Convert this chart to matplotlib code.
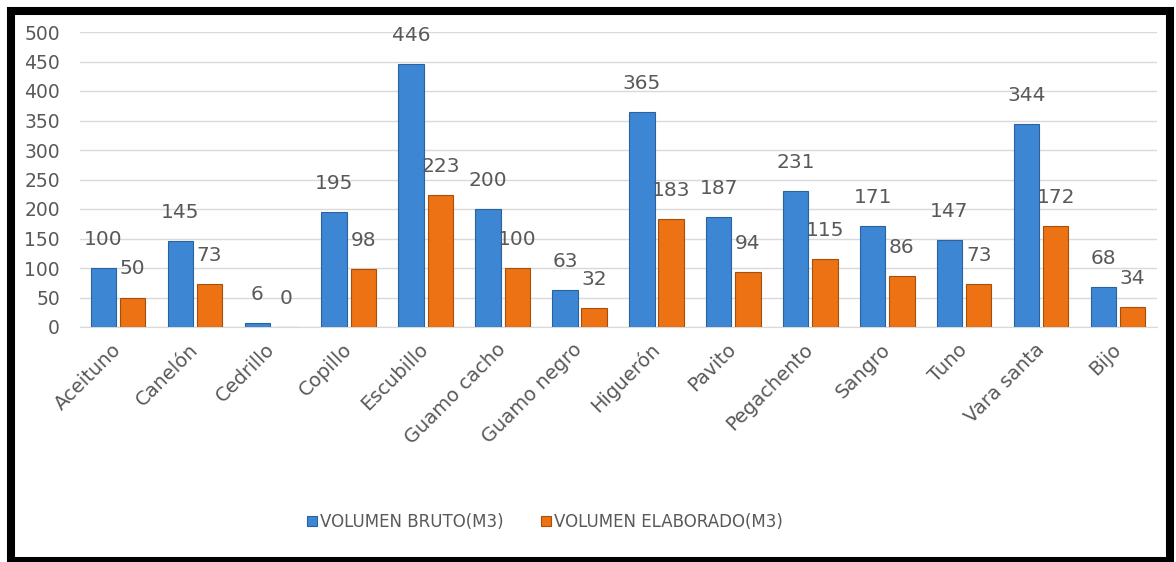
import matplotlib
matplotlib.use("Agg")
import matplotlib.pyplot as plt
from matplotlib.patches import Rectangle
import numpy as np

categories = ["Aceituno", "Canelón", "Cedrillo", "Copillo", "Escubillo", "Guamo cacho",
              "Guamo negro", "Higuerón", "Pavito", "Pegachento", "Sangro", "Tuno",
              "Vara santa", "Bijo"]
bruto = [100, 145, 6, 195, 446, 200, 63, 365, 187, 231, 171, 147, 344, 68]
elaborado = [50, 73, 0, 98, 223, 100, 32, 183, 94, 115, 86, 73, 172, 34]
series_names = ["VOLUMEN BRUTO(M3)", "VOLUMEN ELABORADO(M3)"]
yticks = [0, 50, 100, 150, 200, 250, 300, 350, 400, 450, 500]

plt.rcParams['font.family'] = ["DejaVu Sans"]

W, H = 1176, 562
fig = plt.figure(figsize=(W / 100, H / 100), dpi=100)
ax = fig.add_axes([79.5 / W, 1 - 327 / H, (1156.5 - 79.5) / W, (327 - 32) / H])

x = np.arange(len(categories))
bw = 0.33
off = 0.19
blue, blue_e = "#3C86D4", "#2A62A0"
orange, orange_e = "#EC7214", "#A64F0C"
b1 = ax.bar(x - off, bruto, bw, color=blue, edgecolor=blue_e, linewidth=0.8, label=series_names[0], zorder=3)
b2 = ax.bar(x + off, elaborado, bw, color=orange, edgecolor=orange_e, linewidth=0.8, label=series_names[1], zorder=3)

txtc = "#595959"
for xi, v in zip(x, bruto):
    ax.annotate(str(v), (xi - off, v), xytext=(0, 19), textcoords="offset pixels",
                ha="center", va="bottom", fontsize=14.5, color=txtc, annotation_clip=False)
for xi, v in zip(x, elaborado):
    ax.annotate(str(v), (xi + off, v), xytext=(0, 19), textcoords="offset pixels",
                ha="center", va="bottom", fontsize=14.5, color=txtc, annotation_clip=False)

ax.set_xlim(-0.5, len(categories) - 0.5)
ax.set_ylim(0, 500)
ax.set_yticks(yticks)
ax.tick_params(axis="y", length=0, pad=14, labelsize=13.5, labelcolor=txtc)
ax.set_xticks(x)
ax.set_xticklabels(categories, rotation=45, ha="right", va="center", rotation_mode="anchor",
                   fontsize=14, color=txtc)
ax.tick_params(axis="x", length=0, pad=14)
ax.grid(axis="y", color="#D9D9D9", linewidth=1, zorder=0)
for s in ["top", "right", "left"]:
    ax.spines[s].set_visible(False)
ax.spines["bottom"].set_color("#D9D9D9")
ax.set_axisbelow(True)

leg = fig.legend(handles=[b1, b2], loc="center", bbox_to_anchor=(545 / W, 1 - 522 / H),
                 ncol=2, frameon=False, fontsize=12, handlelength=0.6, handleheight=0.6,
                 columnspacing=2.2, handletextpad=0.2)
for t in leg.get_texts():
    t.set_color(txtc)

fig.patches.append(Rectangle((11 / W, 1 - 561 / H), (1170 - 11) / W, (561 - 11) / H,
                             transform=fig.transFigure, fill=False, edgecolor="black",
                             linewidth=5.8, zorder=10))

fig.savefig("out.png", dpi=100)
